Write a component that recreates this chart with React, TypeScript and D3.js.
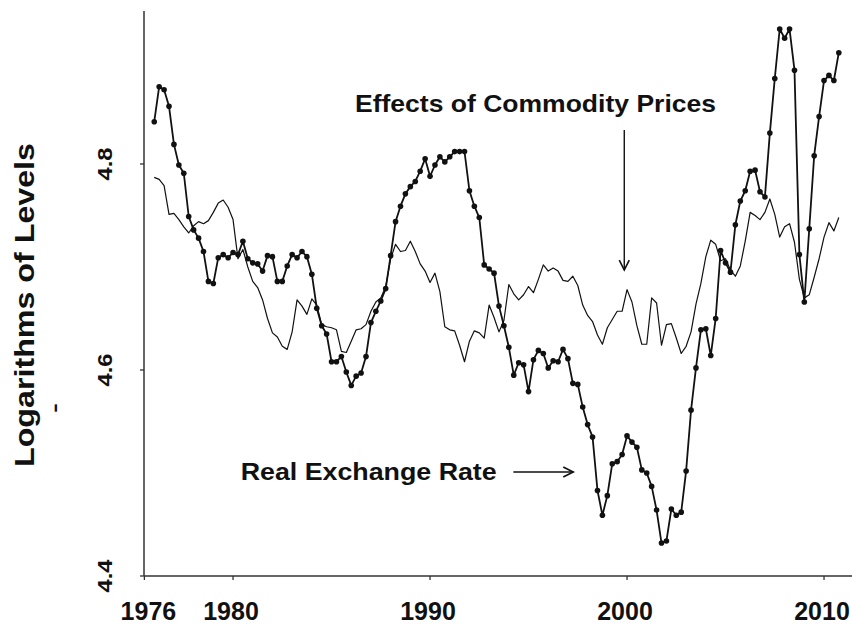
import React from "react";
import * as d3 from "d3";

const startYear = 1976;
const periodsPerYear = 4;

const realExchangeRate = [
  4.841, 4.875, 4.872, 4.856, 4.819, 4.799, 4.791, 4.749, 4.736, 4.728,
  4.715, 4.686, 4.684, 4.709, 4.712, 4.709, 4.714, 4.712, 4.725, 4.708,
  4.704, 4.703, 4.696, 4.711, 4.710, 4.686, 4.686, 4.701, 4.712, 4.709,
  4.715, 4.710, 4.693, 4.660, 4.643, 4.635, 4.608, 4.608, 4.613, 4.598,
  4.585, 4.594, 4.597, 4.613, 4.646, 4.657, 4.667, 4.679, 4.711, 4.744,
  4.759, 4.771, 4.778, 4.783, 4.793, 4.805, 4.788, 4.799, 4.807, 4.802,
  4.807, 4.812, 4.812, 4.812, 4.774, 4.759, 4.748, 4.702, 4.698, 4.694,
  4.662, 4.643, 4.622, 4.595, 4.607, 4.605, 4.579, 4.610, 4.619, 4.616,
  4.602, 4.609, 4.608, 4.620, 4.611, 4.587, 4.586, 4.564, 4.547, 4.535,
  4.483, 4.459, 4.478, 4.509, 4.511, 4.518, 4.536, 4.530, 4.525, 4.503,
  4.500, 4.487, 4.464, 4.432, 4.434, 4.465, 4.459, 4.462, 4.502, 4.561,
  4.602, 4.639, 4.640, 4.614, 4.650, 4.716, 4.704, 4.695, 4.741, 4.764,
  4.774, 4.793, 4.794, 4.773, 4.768, 4.830, 4.883, 4.931, 4.922, 4.931,
  4.891, 4.712, 4.666, 4.737, 4.808, 4.846, 4.881, 4.886, 4.881, 4.908,
];

const commodityEffects = [
  4.787, 4.785, 4.779, 4.751, 4.752, 4.746, 4.739, 4.733, 4.740, 4.744,
  4.742, 4.745, 4.753, 4.762, 4.765, 4.758, 4.746, 4.708, 4.717, 4.700,
  4.686, 4.680, 4.668, 4.650, 4.636, 4.632, 4.623, 4.620, 4.637, 4.668,
  4.662, 4.654, 4.669, 4.663, 4.644, 4.642, 4.641, 4.639, 4.618, 4.617,
  4.628, 4.639, 4.640, 4.644, 4.657, 4.666, 4.670, 4.681, 4.708, 4.722,
  4.715, 4.716, 4.725, 4.715, 4.703, 4.696, 4.685, 4.694, 4.676, 4.642,
  4.639, 4.638, 4.624, 4.608, 4.628, 4.638, 4.636, 4.631, 4.663, 4.651,
  4.637, 4.648, 4.683, 4.674, 4.668, 4.673, 4.681, 4.675, 4.688, 4.702,
  4.696, 4.699, 4.696, 4.687, 4.686, 4.691, 4.682, 4.663, 4.653, 4.647,
  4.634, 4.625, 4.641, 4.649, 4.657, 4.657, 4.678, 4.666, 4.643, 4.625,
  4.625, 4.670, 4.665, 4.624, 4.644, 4.645, 4.631, 4.616, 4.623, 4.637,
  4.664, 4.684, 4.710, 4.726, 4.722, 4.706, 4.708, 4.697, 4.691, 4.701,
  4.725, 4.753, 4.750, 4.746, 4.753, 4.766, 4.751, 4.729, 4.739, 4.742,
  4.724, 4.688, 4.670, 4.673, 4.690, 4.708, 4.729, 4.743, 4.735, 4.748,
];

const xTickValues = [1975.5, 1980, 1990, 2000, 2010];
const xTickLabels = ["1976", "1980", "1990", "2000", "2010"];
const yTickValues = [4.4, 4.6, 4.8];
const yTickLabels = ["4.4", "4.6", "4.8"];

const yAxisTitle = "Logarithms of Levels";
const commodityLabel = "Effects of Commodity Prices";
const rerLabel = "Real Exchange Rate";

const W = 852;
const H = 626;
const left = 144;
const right = 852;
const top = 11;
const bottom = 576;

const FONT = "'Liberation Sans', Arial, Helvetica, sans-serif";
const INK = "#111";

export default function App() {
  const x = d3.scaleLinear().domain([1975.48, 2011.42]).range([left, right]);
  const y = d3.scaleLinear().domain([4.4, 4.9485]).range([bottom, top]);

  const dates = realExchangeRate.map((_, i) => startYear + i / periodsPerYear);

  const line = d3
    .line<number>()
    .x((_, i) => x(dates[i]))
    .y((d) => y(d));

  const cArrowX = x(1999.86);
  const cArrowTop = y(4.833);
  const cArrowBot = y(4.697);
  const rArrowY = y(4.501);
  const rArrowL = x(1994.23);
  const rArrowR = x(1997.27);

  return (
    <svg
      width={W}
      height={H}
      viewBox={`0 0 ${W} ${H}`}
      style={{ position: "absolute", left: 0, top: 0, background: "#fff" }}
    >
      <rect x={0} y={0} width={W} height={H} fill="#fff" />

      <line x1={left} x2={left} y1={top} y2={bottom} stroke="#333" strokeWidth={1.5} />
      <line x1={left} x2={right} y1={bottom} y2={bottom} stroke="#333" strokeWidth={1.5} />

      {yTickValues.map((v, i) => (
        <g key={"yt" + i}>
          <line x1={left - 4} x2={left} y1={y(v)} y2={y(v)} stroke="#333" strokeWidth={1.3} />
          <text
            transform={`translate(111.5, ${y(v)}) rotate(-90)`}
            textAnchor="middle"
            fontFamily={FONT}
            fontWeight="bold"
            fontSize={21}
            fill={INK}
            textLength={33}
            lengthAdjust="spacingAndGlyphs"
          >
            {yTickLabels[i]}
          </text>
        </g>
      ))}

      {xTickValues.map((v, i) => (
        <g key={"xt" + i}>
          <line x1={x(v)} x2={x(v)} y1={bottom} y2={bottom + 4} stroke="#333" strokeWidth={1.3} />
          <text
            x={x(v) + (i === 0 ? 4 : -2)}
            y={620}
            textAnchor="middle"
            fontFamily={FONT}
            fontWeight="bold"
            fontSize={25}
            fill={INK}
          >
            {xTickLabels[i]}
          </text>
        </g>
      ))}

      <text
        transform={`translate(33.5, 305) rotate(-90)`}
        textAnchor="middle"
        fontFamily={FONT}
        fontWeight="bold"
        fontSize={28}
        fill={INK}
        textLength={324}
        lengthAdjust="spacingAndGlyphs"
      >
        {yAxisTitle}
      </text>
      <text
        transform={`translate(64, 408) rotate(-90)`}
        textAnchor="middle"
        fontFamily={FONT}
        fontSize={30}
        fill={INK}
      >
        -
      </text>

      <path d={line(commodityEffects) || ""} fill="none" stroke={INK} strokeWidth={1.2} strokeLinejoin="round" />
      <path d={line(realExchangeRate) || ""} fill="none" stroke={INK} strokeWidth={1.8} strokeLinejoin="round" />
      {realExchangeRate.map((v, i) => (
        <circle key={"p" + i} cx={x(dates[i])} cy={y(v)} r={2.8} fill={INK} />
      ))}

      <text
        x={355}
        y={112}
        fontFamily={FONT}
        fontWeight="bold"
        fontSize={24}
        fill={INK}
        textLength={361}
        lengthAdjust="spacingAndGlyphs"
      >
        {commodityLabel}
      </text>
      <line x1={cArrowX} x2={cArrowX} y1={cArrowTop} y2={cArrowBot} stroke={INK} strokeWidth={1.4} />
      <polyline
        points={`${cArrowX - 5},${cArrowBot - 10} ${cArrowX},${cArrowBot} ${cArrowX + 5},${cArrowBot - 10}`}
        fill="none"
        stroke={INK}
        strokeWidth={1.6}
      />

      <text
        x={240.7}
        y={480}
        fontFamily={FONT}
        fontWeight="bold"
        fontSize={24}
        fill={INK}
        textLength={256}
        lengthAdjust="spacingAndGlyphs"
      >
        {rerLabel}
      </text>
      <line x1={rArrowL} x2={rArrowR} y1={rArrowY} y2={rArrowY} stroke={INK} strokeWidth={1.4} />
      <polyline
        points={`${rArrowR - 10},${rArrowY - 5} ${rArrowR},${rArrowY} ${rArrowR - 10},${rArrowY + 5}`}
        fill="none"
        stroke={INK}
        strokeWidth={1.6}
      />
    </svg>
  );
}
